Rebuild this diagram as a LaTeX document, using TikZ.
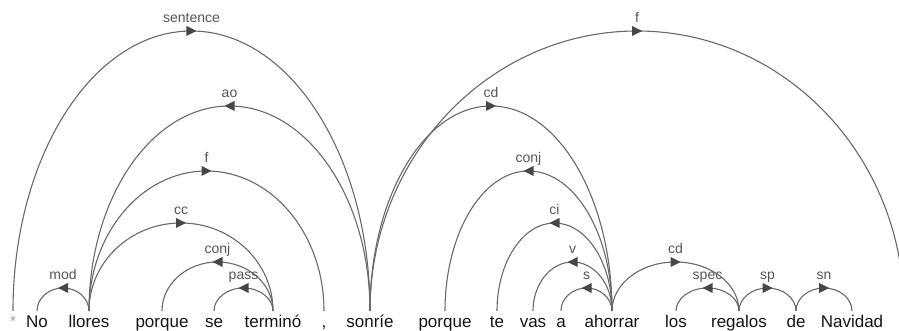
\documentclass[tikz,border=0pt]{standalone}
\usepackage{fontspec}
\setmainfont{Liberation Sans}
\usetikzlibrary{decorations.markings,calc}
\definecolor{linecol}{RGB}{105,105,105}
\definecolor{tipcol}{RGB}{70,70,70}
\definecolor{labcol}{RGB}{85,85,85}
\definecolor{wordcol}{RGB}{20,20,20}
\definecolor{starcol}{RGB}{160,160,160}
\tikzset{
  word/.style={anchor=base, inner sep=0pt, text=wordcol, font=\fontsize{17}{20}\selectfont},
  lab/.style={anchor=base, inner sep=0pt, text=labcol, font=\fontsize{14}{16}\selectfont},
  deparc/.style={draw=linecol, line width=1.1pt, postaction={decorate}},
  tipR/.pic={\fill[tipcol] (5pt,0pt) -- (-5pt,5pt) -- (-5pt,-5pt) -- cycle;},
  tipL/.pic={\fill[tipcol] (-5pt,0pt) -- (5pt,5pt) -- (5pt,-5pt) -- cycle;}
}
\newcommand\dep[5]{%
  \draw[deparc, decoration={markings, mark=at position 0.5 with {\pic{tip#5}; \node[lab] at (0pt,8pt) {#4};}}]
    let \p1=(#1), \p2=(#2) in (\x1,20pt) arc[start angle=180, end angle=0, x radius={0.5*(\x2-\x1)}, y radius=#3pt];}
\begin{document}
\begin{tikzpicture}[x=1pt,y=1pt]
\path[use as bounding box, clip] (0,0) rectangle (899,331);
\node[anchor=base, inner sep=0pt, text=starcol, font=\fontsize{15}{17}\selectfont] (star) at (13,4) {*};
\node[word] (w1) at (37,3) {No};
\node[word] (w2) at (89,3) {llores};
\node[word] (w3) at (162,3) {porque};
\node[word] (w4) at (214,3) {se};
\node[word] (w5) at (273,3) {terminó};
\node[word] (w6) at (324,3) {,};
\node[word] (w7) at (370,3) {sonríe};
\node[word] (w8) at (445,3) {porque};
\node[word] (w9) at (497,3) {te};
\node[word] (w10) at (533,3) {vas};
\node[word] (w11) at (561,3) {a};
\node[word] (w12) at (612,3) {ahorrar};
\node[word] (w13) at (676,3) {los};
\node[word] (w14) at (739,3) {regalos};
\node[word] (w15) at (796,3) {de};
\node[word] (w16) at (852,3) {Navidad};
\coordinate (wend) at (904,3);
\dep{star}{w7}{280}{sentence}{R}
\dep{w2}{w7}{205}{ao}{L}
\dep{w2}{w6}{140}{f}{R}
\dep{w2}{w5}{88}{cc}{R}
\dep{w3}{w5}{49}{conj}{L}
\dep{w4}{w5}{23}{pass}{L}
\dep{w1}{w2}{23}{mod}{L}
\dep{w7}{wend}{280}{f}{R}
\dep{w7}{w12}{205}{cd}{R}
\dep{w8}{w12}{140}{conj}{L}
\dep{w9}{w12}{88}{ci}{L}
\dep{w10}{w12}{49}{v}{L}
\dep{w11}{w12}{23}{s}{L}
\dep{w12}{w14}{49}{cd}{R}
\dep{w13}{w14}{23}{spec}{L}
\dep{w14}{w15}{23}{sp}{R}
\dep{w15}{w16}{23}{sn}{R}
\end{tikzpicture}
\end{document}
